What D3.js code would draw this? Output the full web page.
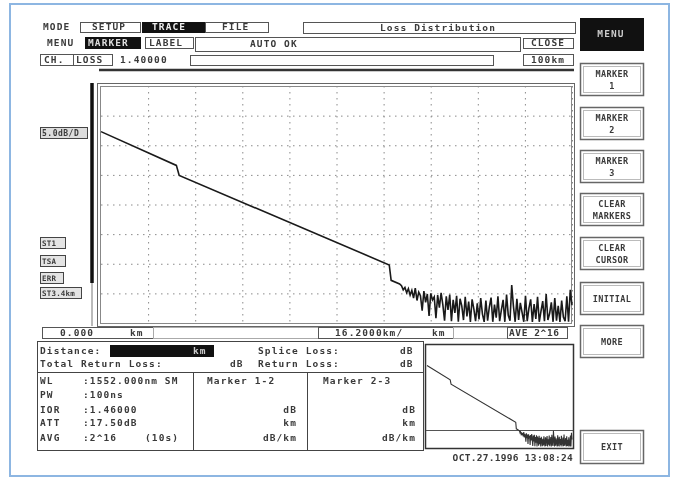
<!DOCTYPE html>
<html>
<head>
<meta charset="utf-8">
<script src="https://cdn.jsdelivr.net/npm/d3@7/dist/d3.min.js"></script>
<style>
body { margin: 0; background: #fff; }
svg { display: block; filter: blur(0.55px); }
text { font-family: "DejaVu Sans Mono", monospace; font-weight: bold; font-size: 9.5px; fill: #3a3a3a; letter-spacing: 1.1px; }
</style>
</head>
<body>
<svg id="otdr" width="680" height="479"></svg>
<script>
// OTDR trace, distance in km and level in dB
var traceKm = [0, 16.0, 16.6, 61.2, 61.6, 63.4];
var traceDb = [32.3, 26.6, 24.9, 9.8, 7.2, 6.6];

// noise floor after the fibre end (dB), from 63.8 km to 100 km
var noiseStartKm = 63.8;
var noiseEndKm = 100;
var noiseDb = [6.3,5.6,6.0,5.1,5.8,4.7,5.5,4.2,5.9,3.8,5.2,4.6,2.1,5.4,3.5,4.9,1.2,5.0,3.9,4.4,
               0.8,4.7,2.6,5.1,3.1,0.4,4.5,2.2,4.8,0.3,3.9,1.7,4.6,0.2,4.1,2.9,0.5,4.4,1.1,3.6,
               0.2,4.0,2.4,0.3,3.3,0.6,4.2,1.5,0.2,3.8,0.4,2.7,4.3,0.2,3.1,0.9,4.5,0.3,2.2,3.9,
               0.2,4.8,1.3,0.4,6.4,2.8,0.2,4.1,0.5,3.4,1.8,0.2,4.6,0.3,2.5,4.0,0.2,3.2,0.7,4.4,
               0.2,2.0,3.7,0.3,4.9,0.5,1.6,3.5,0.2,4.2,0.4,2.9,0.2,3.8,1.0,0.3,4.5,0.2,5.6,3.0];

// screen texts
var modeTabs = ["SETUP", "TRACE", "FILE"];
var menuTabs = ["MARKER", "LABEL"];
var sideButtons = [["MARKER", "1"], ["MARKER", "2"], ["MARKER", "3"], ["CLEAR", "MARKERS"], ["CLEAR", "CURSOR"], ["INITIAL"], ["MORE"]];
var leftTags = ["ST1", "TSA", "ERR", "ST3.4km"];
var paramNames = ["WL", "PW", "IOR", "ATT", "AVG"];
var paramValues = [":1552.000nm SM", ":100ns", ":1.46000", ":17.50dB", ":2^16"];
var markerUnits = ["dB", "km", "dB/km"];

var svg = d3.select("#otdr");

function box(x, y, w, h, fill, stroke) {
	return svg.append("rect").attr("x", x + 0.5).attr("y", y + 0.5)
		.attr("width", w).attr("height", h)
		.attr("fill", fill || "none").attr("stroke", stroke || "#555").attr("stroke-width", 1);
}
function label(x, y, s, opt) {
	opt = opt || {};
	var t = svg.append("text").attr("x", x).attr("y", y).text(s);
	if (opt.anchor) t.attr("text-anchor", opt.anchor);
	if (opt.fill) t.style("fill", opt.fill);
	if (opt.size) t.style("font-size", opt.size + "px");
	if (opt.ls != null) t.style("letter-spacing", opt.ls + "px");
	return t;
}

// outer photo frame
svg.append("rect").attr("x", 10).attr("y", 4).attr("width", 659).attr("height", 472)
	.attr("fill", "none").attr("stroke", "#8db6e2").attr("stroke-width", 2);

// ---- top menu rows
label(43, 30, "MODE");
box(80, 22, 60, 10);
label(92, 30, modeTabs[0]);
box(142, 22, 63, 10, "#111", "#111");
label(152, 30, modeTabs[1], { fill: "#eee" });
box(205, 22, 63, 10);
label(222, 30, modeTabs[2]);
box(303, 22, 272, 11);
label(438, 31, "Loss Distribution", { anchor: "middle" });

label(47, 46, "MENU");
box(85, 37, 55, 11, "#111", "#111");
label(88, 46, menuTabs[0], { fill: "#ddd" });
box(145, 37, 48, 11);
label(149, 46, menuTabs[1]);
box(195, 37, 325, 14);
label(250, 47, "AUTO OK");
box(523, 38, 50, 10);
label(548, 46, "CLOSE", { anchor: "middle" });

box(40, 54, 33, 11);
label(44, 63, "CH.");
box(73, 54, 39, 11);
label(76, 63, "LOSS");
label(120, 63, "1.40000");
box(190, 55, 303, 10);
box(523, 54, 50, 11);
label(548, 63, "100km", { anchor: "middle" });

svg.append("line").attr("x1", 99).attr("x2", 574).attr("y1", 70).attr("y2", 70)
	.attr("stroke", "#333").attr("stroke-width", 2.5);

// ---- main plot
var x = d3.scaleLinear().domain([0, 100]).range([101, 572]);
var y = d3.scaleLinear().domain([0, 40]).range([323, 86]);

box(97, 83, 477, 243, "#fff", "#666");
box(100, 86, 471, 237, "none", "#888");

var grid = svg.append("g").attr("class", "grid");
grid.append("g").attr("transform", "translate(0,86)")
	.call(d3.axisBottom(x).ticks(10).tickSize(237).tickFormat(""));
grid.append("g").attr("transform", "translate(101,0)")
	.call(d3.axisRight(y).ticks(8).tickSize(470).tickFormat(""));
grid.selectAll(".domain").remove();
grid.selectAll(".tick line").attr("stroke", "#8a8a8a").attr("stroke-dasharray", "1.5,4.5");
grid.selectAll(".tick").filter(function (d, i, n) { return i === 0 || i === n.length - 1; }).remove();

// scroll bar on the left edge
svg.append("line").attr("x1", 92).attr("x2", 92).attr("y1", 83).attr("y2", 326)
	.attr("stroke", "#777").attr("stroke-width", 1);
svg.append("line").attr("x1", 92).attr("x2", 92).attr("y1", 83).attr("y2", 283)
	.attr("stroke", "#111").attr("stroke-width", 3.5);

var tracePts = traceKm.map(function (k, i) { return [k, traceDb[i]]; });
var noiseStep = (noiseEndKm - noiseStartKm) / (noiseDb.length - 1);
noiseDb.forEach(function (v, i) { tracePts.push([noiseStartKm + i * noiseStep, v]); });

var line = d3.line().x(function (d) { return x(d[0]); }).y(function (d) { return y(d[1]); });
svg.append("path").datum(tracePts).attr("d", line)
	.attr("fill", "none").attr("stroke", "#1a1a1a").attr("stroke-width", 1.6);

// left tags
box(40, 127, 47, 11, "#ddd", "#444");
label(42, 136, "5.0dB/D", { size: 8, ls: 0.5 });
var tagY = [237, 255, 272, 287];
var tagW = [25, 25, 23, 41];
leftTags.forEach(function (t, i) {
	box(40, tagY[i], tagW[i], 11, "#e4e4e4", "#444");
	label(42, tagY[i] + 9, t, { size: 7.5, ls: 0.2 });
});

// ---- scale row under plot
box(42, 327, 111, 11);
label(60, 336, "0.000");
label(130, 336, "km");
box(153, 327, 165, 11, "none", "#aaa");
box(318, 327, 135, 11);
label(335, 336, "16.2000km/");
label(432, 336, "km");
box(453, 327, 54, 11, "none", "#aaa");
box(507, 327, 60, 11);
label(509, 336, "AVE 2^16", { ls: 0.6 });

// ---- event table
box(37, 341, 386, 109, "none", "#444");
label(40, 354, "Distance:");
box(110, 345, 103, 11, "#111", "#111");
label(193, 354, "km", { fill: "#ccc" });
label(258, 354, "Splice Loss:");
label(400, 354, "dB");
label(40, 367, "Total Return Loss:");
label(230, 367, "dB");
label(258, 367, "Return Loss:");
label(400, 367, "dB");
svg.append("line").attr("x1", 37).attr("x2", 423).attr("y1", 372.5).attr("y2", 372.5).attr("stroke", "#444");
svg.append("line").attr("x1", 193.5).attr("x2", 193.5).attr("y1", 372).attr("y2", 450).attr("stroke", "#444");
svg.append("line").attr("x1", 307.5).attr("x2", 307.5).attr("y1", 372).attr("y2", 450).attr("stroke", "#444");

var rowY = [384, 398, 413, 426, 441];
paramNames.forEach(function (n, i) {
	label(40, rowY[i], n);
	label(83, rowY[i], paramValues[i]);
});
label(145, rowY[4], "(10s)");
label(207, rowY[0], "Marker 1-2");
label(323, rowY[0], "Marker 2-3");
markerUnits.forEach(function (u, i) {
	label(297, rowY[i + 2], u, { anchor: "end" });
	label(416, rowY[i + 2], u, { anchor: "end" });
});

// ---- overview plot
var xm = d3.scaleLinear().domain([0, 100]).range([427, 572]);
var ym = d3.scaleLinear().domain([0, 40]).range([447, 346]);
svg.append("clipPath").attr("id", "mini").append("rect")
	.attr("x", 426).attr("y", 345).attr("width", 147).attr("height", 103);
box(425, 344, 148, 104, "#fff", "#333").attr("stroke-width", 1.5);
svg.append("line").attr("x1", 426).attr("x2", 573).attr("y1", 430.5).attr("y2", 430.5).attr("stroke", "#555");
var miniLine = d3.line().x(function (d) { return xm(d[0]); }).y(function (d) { return ym(d[1]); });
svg.append("path").datum(tracePts).attr("d", miniLine).attr("clip-path", "url(#mini)")
	.attr("fill", "none").attr("stroke", "#333").attr("stroke-width", 1.1);
label(573, 461, "OCT.27.1996 13:08:24", { anchor: "end", ls: 0.3 });

// ---- right soft keys
box(580, 18, 63, 32, "#111", "#111");
label(611, 37, "MENU", { anchor: "middle", fill: "#ccc" });
var btnY = [63, 107, 150, 193, 237, 282, 325];
sideButtons.forEach(function (b, i) {
	box(580, btnY[i], 63, 32, "#fff", "#666").attr("stroke-width", 1.5);
	box(583, btnY[i] + 3, 57, 26, "none", "#bbb");
	if (b.length === 2) {
		label(612, btnY[i] + 14, b[0], { anchor: "middle", size: 8.5, ls: 0.4 });
		label(612, btnY[i] + 26, b[1], { anchor: "middle", size: 8.5, ls: 0.4 });
	} else {
		label(612, btnY[i] + 20, b[0], { anchor: "middle", size: 8.5, ls: 0.4 });
	}
});
box(580, 430, 63, 33, "#fff", "#666").attr("stroke-width", 1.5);
box(583, 433, 57, 27, "none", "#bbb");
label(612, 450, "EXIT", { anchor: "middle", size: 8.5, ls: 0.4 });
</script>
</body>
</html>
